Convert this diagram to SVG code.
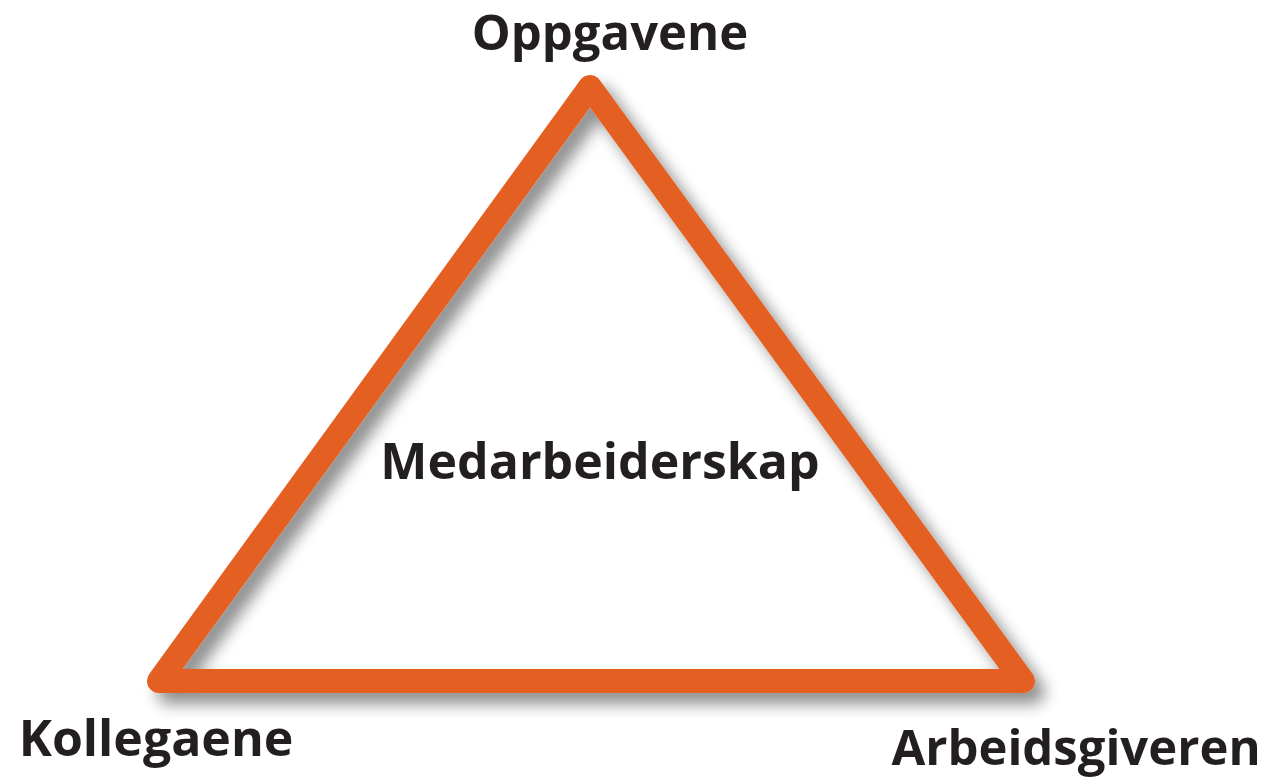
<svg xmlns="http://www.w3.org/2000/svg" width="1271" height="780" viewBox="0 0 1271 780">
<defs>
<style>
.lbl{font-family:"Open Sans","Liberation Sans",sans-serif;font-weight:bold;fill:#231f20;text-anchor:middle}
.edge{fill:none;stroke:#e36022;stroke-width:24;stroke-linejoin:round;stroke-linecap:round}
</style>
<filter id="sh" x="-10%" y="-10%" width="125%" height="125%">
<feGaussianBlur in="SourceAlpha" stdDeviation="8"/>
<feOffset dx="10" dy="11" result="b"/>
<feComponentTransfer><feFuncA type="linear" slope="0.45"/></feComponentTransfer>
<feMerge><feMergeNode/><feMergeNode in="SourceGraphic"/></feMerge>
</filter>
</defs>
<rect width="1271" height="780" fill="#ffffff"/>
<g id="connectors">
<polygon class="edge" points="590,87 1023,681 159,681" filter="url(#sh)"/>
</g>
<g id="node-oppgavene"><text class="lbl" x="610" y="50" font-size="49">Oppgavene</text></g>
<g id="node-kollegaene"><text class="lbl" x="156" y="756" font-size="50">Kollegaene</text></g>
<g id="node-arbeidsgiveren"><text class="lbl" x="1076" y="765" font-size="49">Arbeidsgiveren</text></g>
<g id="node-medarbeiderskap"><text class="lbl" x="600" y="479" font-size="50">Medarbeiderskap</text></g>
</svg>
